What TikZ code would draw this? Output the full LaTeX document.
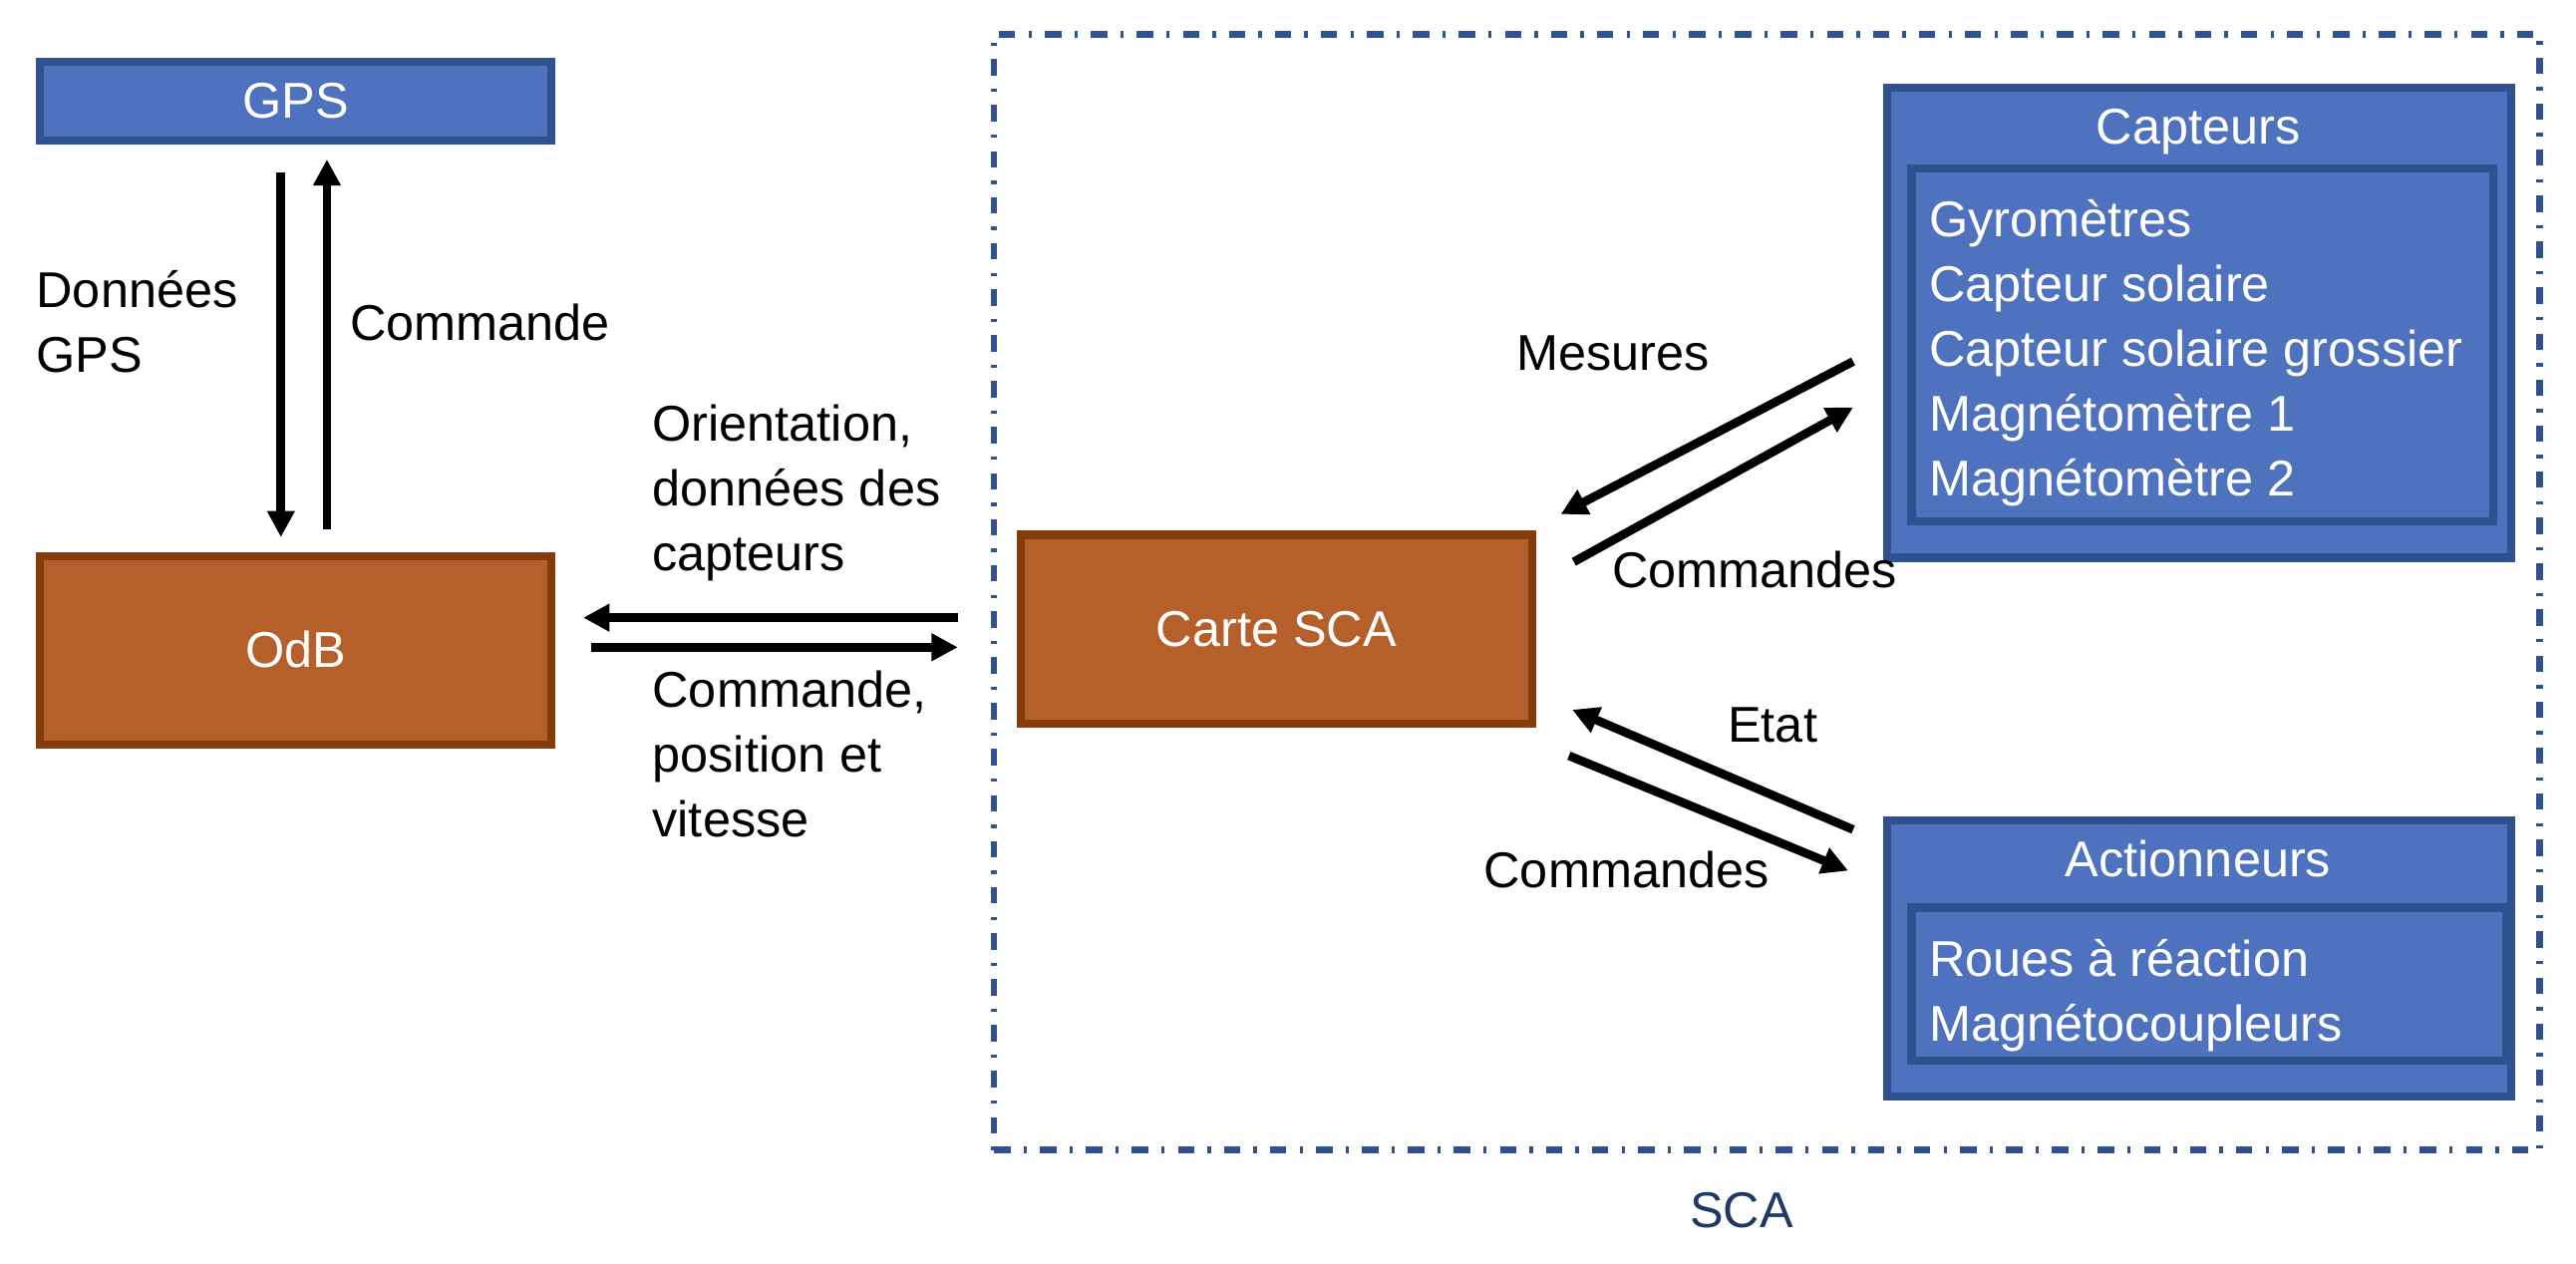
\documentclass[tikz,border=0pt]{standalone}
\usepackage{fontspec}
\setmainfont{Liberation Sans}
\usetikzlibrary{arrows.meta}
\definecolor{boxblue}{HTML}{4E72BE}
\definecolor{blueline}{HTML}{2F528F}
\definecolor{boxorange}{HTML}{B5602B}
\definecolor{orangeline}{HTML}{843C0C}
\definecolor{scanavy}{HTML}{203864}
\begin{document}
\begin{tikzpicture}[x=1pt, y=-1pt,
   every node/.style={font=\fontsize{30.6}{39.5}\selectfont, inner sep=0pt},
   bluebox/.style={draw=blueline, fill=boxblue, line width=5pt, text=white,
                   text height=21pt, text depth=0pt},
   orangebox/.style={draw=orangeline, fill=boxorange, line width=5pt, text=white,
                   text height=21pt, text depth=0pt},
   txt/.style={text height=21pt, text depth=0pt},
   list/.style={align=left, anchor=west},
   flow/.style={-{Triangle[length=16pt,width=16pt]}, line width=5.3pt}]

\useasboundingbox (0,0) rectangle (1568,769.4);

% frame of the SCA
\node[draw=blueline, line width=4pt, dash pattern=on 10pt off 8pt on 2pt off 8pt,
      minimum width=941pt, minimum height=679pt] (sca) at (1075.5,360.5) {};
\node[txt, text=scanavy] (scaLabel) at (1060,737) {SCA};

% blocks
\node[bluebox, minimum width=311pt, minimum height=48pt] (gps) at (180,61.5) {GPS};
\node[orangebox, minimum width=311pt, minimum height=115pt] (odb) at (180,396) {OdB};
\node[orangebox, minimum width=311pt, minimum height=115pt] (carte) at (777,383) {Carte SCA};

\node[bluebox, minimum width=380pt, minimum height=286pt] (capt) at (1338.5,196.5) {};
\node[bluebox, minimum width=354pt, minimum height=215pt] (captIn) at (1340.5,210) {};
\node[txt, text=white] (captTitle) at (1338,77) {Capteurs};
\node[list, text=white] (captList) at (1174,215)
   {Gyromètres\\Capteur solaire\\Capteur solaire grossier\\Magnétomètre 1\\Magnétomètre 2};

\node[bluebox, minimum width=380pt, minimum height=168pt] (act) at (1338.5,583.5) {};
\node[bluebox, minimum width=362pt, minimum height=93pt] (actIn) at (1344.5,599) {};
\node[txt, text=white] (actTitle) at (1338,523) {Actionneurs};
\node[list, text=white] (actList) at (1174,606) {Roues à réaction\\Magnétocoupleurs};

% labels
\node[list] (gpsData) at (22,196) {Données\\GPS};
\node[txt, anchor=west] (gpsCmd) at (213,197) {Commande};
\node[list] (orient) at (397,300) {Orientation,\\données des\\capteurs};
\node[list] (cmdPos) at (397,459) {Commande,\\position et\\vitesse};
\node[txt] (mes) at (982,215) {Mesures};
\node[txt] (cmdCapt) at (1068,347) {Commandes};
\node[txt] (etat) at (1079,441) {Etat};
\node[txt] (cmdAct) at (990,530) {Commandes};

% flows
\draw[flow] ([shift={(-9,17)}]gps.south) -- ([shift={(-9,-9)}]odb.north);
\draw[flow] ([shift={(19,-14)}]odb.north) -- ([shift={(19,9)}]gps.south);
\draw[flow] ([shift={(-36,-7)}]carte.west) -- ([shift={(17,-20)}]odb.east);
\draw[flow] ([shift={(22,-2)}]odb.east) -- ([shift={(-36,11)}]carte.west);
\draw[flow] ([shift={(-18,23.5)}]capt.west) -- ([shift={(15,-70)}]carte.east);
\draw[flow] ([shift={(23,-41)}]carte.east) -- ([shift={(-18,51.5)}]capt.west);
\draw[flow] ([shift={(-18,-78.5)}]act.west) -- ([shift={(22,49)}]carte.east);
\draw[flow] ([shift={(20,77)}]carte.east) -- ([shift={(-21,-53.5)}]act.west);

\end{tikzpicture}
\end{document}
